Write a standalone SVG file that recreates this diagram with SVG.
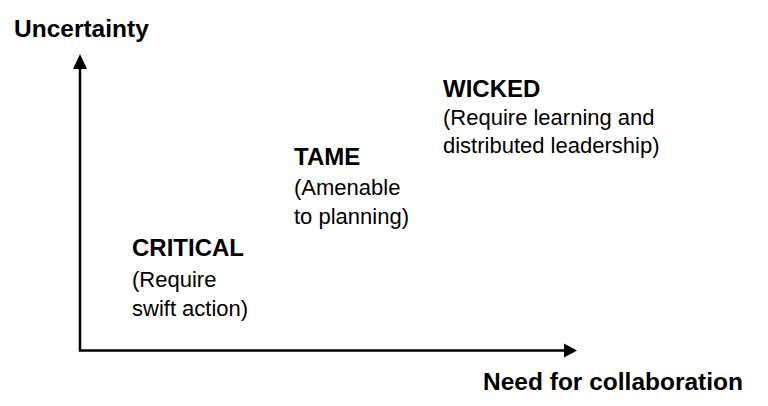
<svg xmlns="http://www.w3.org/2000/svg" width="768" height="406" viewBox="0 0 768 406">
<style>
.t{font-family:"Liberation Sans",Arial,sans-serif;fill:#000;}
.b{font-weight:bold;font-size:24px;}
.a{font-weight:bold;font-size:24.5px;}
.r{font-size:22px;}
.ax{stroke:#000;stroke-width:2.5;fill:none;}
</style>
<rect width="768" height="406" fill="#fff"/>
<g id="connectors">
<path class="ax" d="M80,68 L80,350.5 L564,350.5"/>
<polygon points="80,54 73,69 87,69" fill="#000"/>
<polygon points="577,350.5 564,343.5 564,357.5" fill="#000"/>
</g>
<g id="y-axis-label"><text class="t a" x="14" y="37">Uncertainty</text></g>
<g id="x-axis-label"><text class="t a" x="483" y="390">Need for collaboration</text></g>
<g id="critical">
<text class="t b" x="132" y="256">CRITICAL</text>
<text class="t r" x="132" y="287">(Require</text>
<text class="t r" x="132" y="316">swift action)</text>
</g>
<g id="tame">
<text class="t b" x="294" y="165">TAME</text>
<text class="t r" x="294" y="195">(Amenable</text>
<text class="t r" x="294" y="224">to planning)</text>
</g>
<g id="wicked">
<text class="t b" x="443" y="97">WICKED</text>
<text class="t r" x="443" y="125">(Require learning and</text>
<text class="t r" x="443" y="153">distributed leadership)</text>
</g>
</svg>
